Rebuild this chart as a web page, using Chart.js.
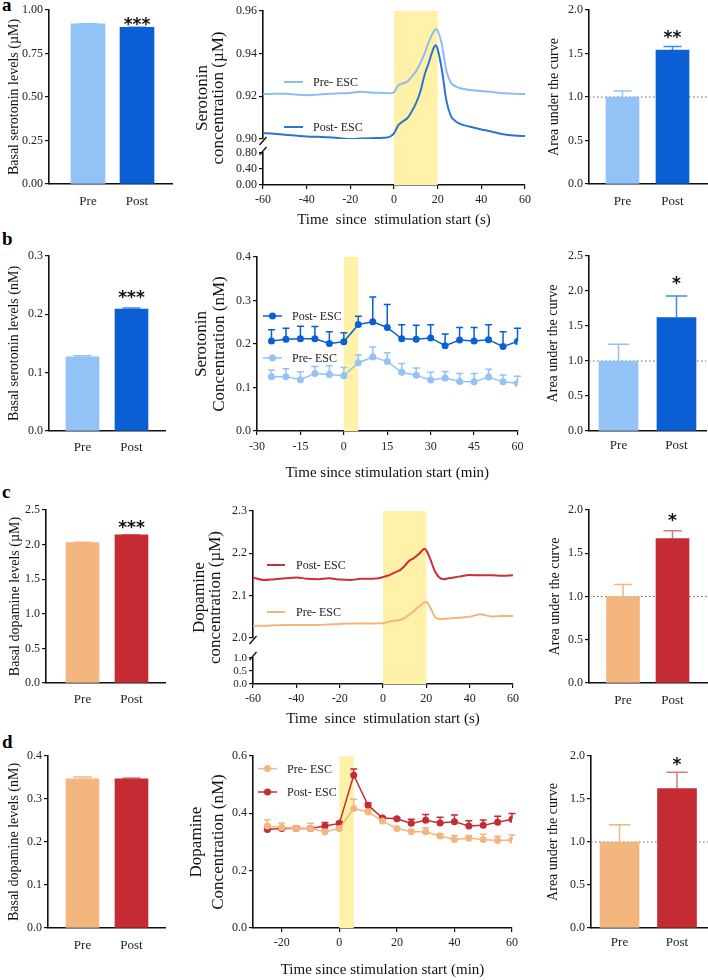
<!DOCTYPE html>
<html>
<head>
<meta charset="utf-8">
<title>ESC serotonin / dopamine</title>
<script src="https://cdn.jsdelivr.net/npm/chart.js@4.4.1/dist/chart.umd.min.js"></script>
<style>
  html, body { margin: 0; padding: 0; background: #fff; }
  body { position: relative; width: 708px; height: 980px; overflow: hidden; }
  canvas { position: absolute; }
  .tag { position: absolute; left: 2px; font: bold 19px/19px "Liberation Serif", serif; color: #000; }
</style>
</head>
<body>
<div class="tag" style="top:-5px">a</div>
<div class="tag" style="top:229px">b</div>
<div class="tag" style="top:482px">c</div>
<div class="tag" style="top:732px">d</div>
<script>
// ---------- Data ----------
const groups = ["Pre", "Post"];

// a : serotonin, FSCV trace (s)
const aBasal = [0.92, 0.90];
const aBasalErr = [0.001, 0.001];
const aAuc = [1.0, 1.54];
const aAucErr = [0.07, 0.04];
const aTime = [-60, -55, -50, -45, -40, -35, -30, -25, -20, -15, -10, -5,
  -2, 0, 2, 4, 6, 8, 10, 12, 14, 16, 18, 19, 20,
  22, 24, 26, 28, 30, 35, 40, 45, 50, 55, 60];
const aPre = [0.9211, 0.9212, 0.9212, 0.9209, 0.9205, 0.9208, 0.9212, 0.9214, 0.9216, 0.9222, 0.9217, 0.9216,
  0.9214, 0.9219, 0.9252, 0.9260, 0.9268, 0.9290, 0.9316, 0.9355, 0.9400, 0.9456, 0.9500, 0.9515, 0.9507,
  0.9440, 0.9320, 0.9265, 0.9248, 0.9239, 0.9230, 0.9225, 0.9220, 0.9215, 0.9212, 0.9211];
const aPost = [0.9027, 0.9025, 0.9020, 0.9016, 0.9012, 0.9010, 0.9008, 0.9004, 0.9000, 0.9002, 0.9004, 0.9006,
  0.9010, 0.9026, 0.9065, 0.9082, 0.9096, 0.9127, 0.9166, 0.9220, 0.9300, 0.9360, 0.9422, 0.9440, 0.9420,
  0.9320, 0.9180, 0.9110, 0.9085, 0.9072, 0.9057, 0.9045, 0.9034, 0.9022, 0.9016, 0.9014];
const aStim = [0, 20];

// b : serotonin, microdialysis (min)
const bBasal = [0.127, 0.209];
const bBasalErr = [0.002, 0.002];
const bAuc = [1.0, 1.62];
const bAucErr = [0.24, 0.31];
const bTime = [-25, -20, -15, -10, -5, 0, 5, 10, 15, 20, 25, 30, 35, 40, 45, 50, 55, 60];
const bPost = [0.207, 0.211, 0.212, 0.212, 0.201, 0.205, 0.245, 0.251, 0.238, 0.212, 0.211, 0.214, 0.196, 0.209, 0.207, 0.210, 0.194, 0.206];
const bPostErr = [0.026, 0.025, 0.029, 0.028, 0.027, 0.021, 0.019, 0.057, 0.053, 0.032, 0.032, 0.030, 0.027, 0.029, 0.031, 0.034, 0.034, 0.030];
const bPre = [0.125, 0.125, 0.118, 0.132, 0.130, 0.127, 0.157, 0.170, 0.160, 0.135, 0.128, 0.117, 0.122, 0.114, 0.113, 0.124, 0.113, 0.110];
const bPreErr = [0.015, 0.018, 0.018, 0.016, 0.020, 0.019, 0.018, 0.023, 0.020, 0.020, 0.017, 0.018, 0.015, 0.018, 0.019, 0.018, 0.016, 0.016];
const bStim = [0, 5];

// c : dopamine, FSCV trace (s)
const cBasal = [2.03, 2.14];
const cBasalErr = [0.004, 0.004];
const cAuc = [1.0, 1.67];
const cAucErr = [0.14, 0.09];
const cTime = aTime;
const cPost = [2.143, 2.137, 2.139, 2.141, 2.143, 2.140, 2.139, 2.141, 2.138, 2.137, 2.140, 2.140,
  2.141, 2.144, 2.147, 2.151, 2.156, 2.161, 2.170, 2.182, 2.188, 2.196, 2.206, 2.211, 2.207,
  2.184, 2.157, 2.143, 2.139, 2.141, 2.145, 2.149, 2.148, 2.148, 2.147, 2.148];
const cPre = [2.029, 2.029, 2.030, 2.031, 2.031, 2.031, 2.031, 2.032, 2.033, 2.034, 2.034, 2.034,
  2.035, 2.035, 2.037, 2.040, 2.041, 2.043, 2.047, 2.055, 2.062, 2.072, 2.080, 2.084, 2.085,
  2.070, 2.050, 2.045, 2.045, 2.046, 2.048, 2.050, 2.056, 2.051, 2.052, 2.052];
const cStim = [0, 20];

// d : dopamine, microdialysis (min)
const dBasal = [0.347, 0.347];
const dBasalErr = [0.004, 0.002];
const dAuc = [1.0, 1.62];
const dAucErr = [0.20, 0.19];
const dTime = [-25, -20, -15, -10, -5, 0, 5, 10, 15, 20, 25, 30, 35, 40, 45, 50, 55, 60];
const dPre = [0.356, 0.351, 0.347, 0.347, 0.336, 0.347, 0.417, 0.405, 0.373, 0.347, 0.336, 0.336, 0.321, 0.309, 0.313, 0.309, 0.305, 0.307];
const dPreErr = [0.022, 0.015, 0.008, 0.018, 0.008, 0.008, 0.032, 0.008, 0.008, 0.006, 0.006, 0.014, 0.008, 0.014, 0.010, 0.018, 0.015, 0.017];
const dPost = [0.344, 0.347, 0.347, 0.347, 0.356, 0.365, 0.533, 0.428, 0.384, 0.381, 0.365, 0.376, 0.366, 0.371, 0.356, 0.358, 0.369, 0.379];
const dPostErr = [0.005, 0.005, 0.005, 0.005, 0.012, 0.006, 0.022, 0.008, 0.004, 0.004, 0.014, 0.020, 0.020, 0.023, 0.018, 0.019, 0.021, 0.020];
const dStim = [0, 5];

// tick labels
const aBasalTicks = [0, 0.25, 0.5, 0.75, 1.0];
const aTopTicks = [0.90, 0.92, 0.94, 0.96];
const aLowTicks = [0, 0.4, 0.8];
const secTicks = [-60, -40, -20, 0, 20, 40, 60];
const auc2Ticks = [0, 0.5, 1.0, 1.5, 2.0];
const auc25Ticks = [0, 0.5, 1.0, 1.5, 2.0, 2.5];
const bBasalTicks = [0, 0.1, 0.2, 0.3];
const bTicks = [0, 0.1, 0.2, 0.3, 0.4];
const bTimeTicks = [-30, -15, 0, 15, 30, 45, 60];
const cTopTicks = [2.0, 2.1, 2.2, 2.3];
const cLowTicks = [0, 0.5, 1.0];
const dBasalTicks = [0, 0.1, 0.2, 0.3, 0.4];
const dTicks = [0, 0.2, 0.4, 0.6];
const dTimeTicks = [-20, 0, 20, 40, 60];

// ---------- Style ----------
const LIGHT_BLUE = "#93c2f6", DARK_BLUE = "#0b5fd5";
const LIGHT_ORANGE = "#f2b67e", DARK_RED = "#c42b32";
const ERR_BLUE = "#3f8ce4", ERR_RED = "#da7a7e";
const TRACE_PRE_B = "#8dbcf2", TRACE_POST_B = "#2d73d2";
const TRACE_PRE_O = "#f4b47c", TRACE_POST_O = "#c8303a";
const SHADE = "#fff2a8";
const AXIS = "#111";

Chart.defaults.font.family = '"Liberation Serif", "Times New Roman", serif';
Chart.defaults.color = "#222";
Chart.defaults.animation = false;
Chart.defaults.events = [];
Chart.defaults.plugins.legend.display = false;
Chart.defaults.plugins.tooltip.enabled = false;

// ---------- Helpers ----------
function makeCanvas(box) {
  const c = document.createElement("canvas");
  const w = box.r - box.l, h = box.b - box.t;
  c.width = w; c.height = h;
  Object.assign(c.style, { left: box.l + "px", top: box.t + "px", width: w + "px", height: h + "px" });
  document.body.appendChild(c);
  return c;
}

function axTitle(text, size, lh) {
  return { display: true, text, color: "#111", font: { size, lineHeight: lh }, padding: 0 };
}

function yAxis(width, ticks, dec, fontSize) {
  return {
    position: "left",
    grid: { drawOnChartArea: false, drawTicks: true, tickLength: 4, color: AXIS, lineWidth: 1.2 },
    border: { color: AXIS, width: 1.6 },
    ticks: {
      font: { size: fontSize || 12 }, padding: 2, color: "#222", autoSkip: false,
      callback: (v) => v.toFixed(dec),
    },
    afterBuildTicks: (s) => { s.ticks = ticks.map((v) => ({ value: v })); },
    afterFit: (s) => { s.width = width; },
  };
}

function xTimeAxis(p, height) {
  return {
    type: "linear", min: p.xMin, max: p.xMax, offset: false,
    grid: { drawOnChartArea: false, drawTicks: true, tickLength: 4, color: AXIS, lineWidth: 1.2 },
    border: { color: AXIS, width: 1.6 },
    ticks: { font: { size: 12 }, padding: p.tickPad, color: "#222", autoSkip: false, maxRotation: 0 },
    afterBuildTicks: (s) => { s.ticks = p.xTicks.map((v) => ({ value: v })); },
    afterFit: (s) => { s.height = height; },
    title: { display: true, text: p.xTitle, color: "#111", font: { size: 15, lineHeight: 1.2 }, padding: 0 },
  };
}

// extra drawing: stimulation window, reference line, error bars, stars, legend, axis break
function extras(ex) {
  return {
    id: "extras",
    beforeDatasetsDraw(chart) {
      const { ctx, chartArea: a, scales } = chart;
      const xs = scales.x, ys = scales[ex.yId || "y"];
      ctx.save();
      if (ex.stim) {
        const x0 = xs.getPixelForValue(ex.stim[0]), x1 = xs.getPixelForValue(ex.stim[1]);
        ctx.fillStyle = SHADE;
        ctx.fillRect(x0, a.top, x1 - x0, a.bottom - a.top);
      }
      if (ex.ref != null) {
        const y = ys.getPixelForValue(ex.ref);
        ctx.strokeStyle = "#666"; ctx.lineWidth = 1; ctx.setLineDash([1.5, 2.5]);
        ctx.beginPath(); ctx.moveTo(a.left, y); ctx.lineTo(a.right, y); ctx.stroke();
        ctx.setLineDash([]);
      }
      (ex.errors || []).forEach((e) => {
        ctx.lineWidth = 1.5;
        e.x.forEach((xv, i) => {
          const px = xs.getPixelForValue(xv);
          const p0 = ys.getPixelForValue(e.y[i]);
          const p1 = ys.getPixelForValue(e.y[i] + e.err[i]);
          ctx.strokeStyle = Array.isArray(e.color) ? e.color[i] : e.color;
          ctx.beginPath();
          ctx.moveTo(px, p0); ctx.lineTo(px, p1);
          ctx.moveTo(px - e.cap / 2, p1); ctx.lineTo(px + e.cap / 2, p1);
          ctx.stroke();
        });
      });
      ctx.restore();
    },
    afterDraw(chart) {
      const { ctx, chartArea: a, scales } = chart;
      const xs = scales.x, ys = scales[ex.yId || "y"];
      ctx.save();
      if (ex.star) {
        const s = ex.star;
        ctx.font = 'bold 17px "DejaVu Sans"';
        ctx.fillStyle = "#111"; ctx.textAlign = "center"; ctx.textBaseline = "alphabetic";
        ctx.fillText(s.text, xs.getPixelForValue(1), ys.getPixelForValue(s.value) - s.gap + 10);
      }
      if (ex.legend) {
        const L = ex.legend;
        ctx.font = '12px "Liberation Serif"';
        ctx.textBaseline = "middle"; ctx.textAlign = "left";
        L.items.forEach((it) => {
          const y = a.top + it.dy;
          ctx.strokeStyle = it.color; ctx.lineWidth = L.width || 2;
          ctx.beginPath(); ctx.moveTo(a.left + L.x0, y); ctx.lineTo(a.left + L.x1, y); ctx.stroke();
          if (L.point) {
            ctx.fillStyle = it.color;
            ctx.beginPath(); ctx.arc(a.left + (L.x0 + L.x1) / 2, y, 3.5, 0, Math.PI * 2); ctx.fill();
          }
          ctx.fillStyle = "#222";
          ctx.fillText(it.label, a.left + L.tx, y + 1);
        });
      }
      if (ex.breakAxis) {
        const x = a.left;
        const y1 = scales.yTop.bottom, y2 = scales.yLow.top;
        ctx.strokeStyle = AXIS; ctx.lineWidth = 1.3;
        [y1 + 2, y2 - 2].forEach((y) => {
          ctx.beginPath(); ctx.moveTo(x - 3.5, y + 4); ctx.lineTo(x + 3.5, y - 4); ctx.stroke();
        });
      }
      ctx.restore();
    },
  };
}

// ---------- Panels ----------
function barPanel(p) {
  const c = makeCanvas(p.box);
  const yW = p.area.l - p.box.l, xH = p.box.b - p.area.b;
  const errTop = p.values[1] + p.errs[1];
  new Chart(c, {
    type: "bar",
    data: {
      datasets: [{
        data: p.values.map((v, i) => ({ x: i, y: v })),
        backgroundColor: p.colors, borderWidth: 0, barThickness: p.thick,
      }],
    },
    options: {
      responsive: false,
      layout: { padding: { top: p.area.t - p.box.t, right: p.box.r - p.area.r, left: 0, bottom: 0 } },
      scales: {
        x: {
          type: "linear", min: p.xMin, max: p.xMax, z: 1, offset: false,
          grid: { display: false, drawTicks: false, offset: false },
          border: { color: AXIS, width: 1.6 },
          ticks: { font: { size: 13 }, padding: p.labelPad, color: "#222", autoSkip: false, callback: (v) => groups[v] },
          afterBuildTicks: (s) => { s.ticks = groups.map((g, i) => ({ value: i })); },
          afterFit: (s) => { s.height = xH; },
        },
        y: Object.assign(yAxis(yW, p.yTicks, p.dec), {
          min: p.yTicks[0], max: p.yTicks[p.yTicks.length - 1],
          title: axTitle(p.title, 14, 1.2),
        }),
      },
    },
    plugins: [extras({
      ref: p.ref,
      errors: [{ x: [0, 1], y: p.values, err: p.errs, color: p.errColors, cap: p.thick * 0.55 }],
      star: p.star ? { text: p.star, value: errTop, gap: p.starGap } : null,
    })],
  });
}

function tracePanel(p) {
  const c = makeCanvas(p.box);
  const yW = p.area.l - p.box.l, xH = p.box.b - p.area.b;
  const scales = { x: xTimeAxis(p, xH) };
  let yId = "y";
  if (p.broken) {
    const B = p.broken, stackW = yW - B.titleW;
    yId = "yTop";
    scales.yTitle = {
      position: "left", weight: 4,
      grid: { display: false, drawTicks: false }, border: { display: false }, ticks: { display: false },
      title: axTitle(p.yTitle, 17, p.yLH),
      afterFit: (s) => { s.width = B.titleW; },
    };
    scales.yTop = Object.assign(yAxis(stackW, B.top, B.topDec), {
      stack: "v", stackWeight: B.wTop, weight: 3, min: B.top[0], max: B.top[B.top.length - 1],
    });
    scales.yGap = {
      position: "left", stack: "v", stackWeight: B.wGap, weight: 2,
      grid: { display: false, drawTicks: false }, border: { display: false }, ticks: { display: false },
      afterFit: (s) => { s.width = stackW; },
    };
    scales.yLow = Object.assign(yAxis(stackW, B.low, B.lowDec, B.lowFont), {
      stack: "v", stackWeight: B.wLow, weight: 1, min: B.low[0], max: B.low[B.low.length - 1],
    });
  } else {
    scales.y = Object.assign(yAxis(yW, p.yTicks, p.yDec), {
      min: p.yTicks[0], max: p.yTicks[p.yTicks.length - 1],
      title: axTitle(p.yTitle, 17, p.yLH),
    });
  }
  const datasets = p.series.map((s) => ({
    data: s.x.map((t, i) => ({ x: t, y: s.y[i] })),
    yAxisID: yId,
    borderColor: s.color, backgroundColor: s.color,
    borderWidth: p.markers ? 1.5 : 2,
    pointRadius: p.markers ? 3.5 : 0, pointBorderWidth: 0,
    tension: 0, cubicInterpolationMode: p.markers ? "default" : "monotone",
  }));
  const errors = p.series.filter((s) => s.err).map((s) => ({ x: s.x, y: s.y, err: s.err, color: s.color, cap: 7 }));
  new Chart(c, {
    type: "line",
    data: { datasets },
    options: {
      responsive: false,
      layout: { padding: { top: p.area.t - p.box.t, right: p.box.r - p.area.r, left: 0, bottom: 0 } },
      scales,
    },
    plugins: [extras({ yId, stim: p.stim, errors, legend: p.legend, breakAxis: !!p.broken })],
  });
}

// ---------- Row a ----------
barPanel({
  box: { l: 6, t: 0, r: 178, b: 228 }, area: { l: 49, t: 10, r: 172, b: 184 },
  xMin: -0.796, xMax: 1.714, thick: 34, labelPad: 10,
  values: aBasal, errs: aBasalErr, colors: [LIGHT_BLUE, DARK_BLUE], errColors: [LIGHT_BLUE, ERR_BLUE],
  yTicks: aBasalTicks, dec: 2, title: "Basal serotonin levels (µM)", star: "***", starGap: 7,
});
tracePanel({
  box: { l: 194, t: 0, r: 537, b: 229 }, area: { l: 263, t: 11, r: 525, b: 185 },
  xMin: -60, xMax: 60, xTicks: secTicks, tickPad: 4, xTitle: "Time  since  stimulation start (s)",
  yTitle: ["Serotonin", "concentration (µM)"], yLH: 0.96,
  broken: { titleW: 31, top: aTopTicks, topDec: 2, low: aLowTicks, lowDec: 2, lowFont: 12, wTop: 128, wGap: 14, wLow: 32 },
  series: [{ x: aTime, y: aPre, color: TRACE_PRE_B }, { x: aTime, y: aPost, color: TRACE_POST_B }],
  stim: aStim,
  legend: { x0: 21, x1: 40, tx: 50, items: [
    { label: "Pre- ESC", color: TRACE_PRE_B, dy: 71 },
    { label: "Post- ESC", color: TRACE_POST_B, dy: 116 },
  ] },
});
barPanel({
  box: { l: 546, t: 0, r: 708, b: 228 }, area: { l: 589, t: 10, r: 708, b: 184 },
  xMin: -0.67, xMax: 1.71, thick: 33, labelPad: 10, ref: 1,
  values: aAuc, errs: aAucErr, colors: [LIGHT_BLUE, DARK_BLUE], errColors: [LIGHT_BLUE, ERR_BLUE],
  yTicks: auc2Ticks, dec: 1, title: "Area under the curve", star: "**", starGap: 14,
});

// ---------- Row b ----------
barPanel({
  box: { l: 6, t: 242, r: 172, b: 470 }, area: { l: 49, t: 256, r: 165, b: 431 },
  xMin: -0.684, xMax: 1.684, thick: 33, labelPad: 9,
  values: bBasal, errs: bBasalErr, colors: [LIGHT_BLUE, DARK_BLUE], errColors: [LIGHT_BLUE, ERR_BLUE],
  yTicks: bBasalTicks, dec: 1, title: "Basal serotonin levels (nM)", star: "***", starGap: 15,
});
tracePanel({
  box: { l: 192, t: 242, r: 528, b: 482 }, area: { l: 257, t: 257, r: 518, b: 431 },
  xMin: -30, xMax: 60, xTicks: bTimeTicks, tickPad: 4.5, xTitle: "Time since stimulation start (min)",
  yTitle: ["Serotonin", "Concentration (nM)"], yLH: 1.076, yTicks: bTicks, yDec: 1, markers: true,
  series: [
    { x: bTime, y: bPost, err: bPostErr, color: DARK_BLUE },
    { x: bTime, y: bPre, err: bPreErr, color: LIGHT_BLUE },
  ],
  stim: bStim,
  legend: { x0: 6, x1: 25, tx: 35, width: 1.5, point: true, items: [
    { label: "Post- ESC", color: DARK_BLUE, dy: 59 },
    { label: "Pre- ESC", color: LIGHT_BLUE, dy: 101 },
  ] },
});
barPanel({
  box: { l: 545, t: 242, r: 708, b: 470 }, area: { l: 589, t: 256, r: 706, b: 431 },
  xMin: -0.509, xMax: 1.509, thick: 39, labelPad: 7, ref: 1,
  values: bAuc, errs: bAucErr, colors: [LIGHT_BLUE, DARK_BLUE], errColors: [LIGHT_BLUE, ERR_BLUE],
  yTicks: auc25Ticks, dec: 1, title: "Area under the curve", star: "*", starGap: 17,
});

// ---------- Row c ----------
barPanel({
  box: { l: 7, t: 495, r: 168, b: 722 }, area: { l: 46, t: 510, r: 165, b: 683 },
  xMin: -0.745, xMax: 1.684, thick: 33, labelPad: 9,
  values: cBasal, errs: cBasalErr, colors: [LIGHT_ORANGE, DARK_RED], errColors: [LIGHT_ORANGE, ERR_RED],
  yTicks: auc25Ticks, dec: 1, title: "Basal dopamine levels (µM)", star: "***", starGap: 12,
});
tracePanel({
  box: { l: 191, t: 495, r: 525, b: 728 }, area: { l: 253, t: 511, r: 513, b: 684 },
  xMin: -60, xMax: 60, xTicks: secTicks, tickPad: 4, xTitle: "Time  since  stimulation start (s)",
  yTitle: ["Dopamine", "concentration (µM)"], yLH: 0.96,
  broken: { titleW: 32, top: cTopTicks, topDec: 1, low: cLowTicks, lowDec: 1, lowFont: 11, wTop: 127, wGap: 20, wLow: 26 },
  series: [{ x: cTime, y: cPre, color: TRACE_PRE_O }, { x: cTime, y: cPost, color: TRACE_POST_O }],
  stim: cStim,
  legend: { x0: 14, x1: 32, tx: 43, items: [
    { label: "Post- ESC", color: TRACE_POST_O, dy: 54 },
    { label: "Pre- ESC", color: TRACE_PRE_O, dy: 101 },
  ] },
});
barPanel({
  box: { l: 547, t: 495, r: 708, b: 722 }, area: { l: 589, t: 510, r: 708, b: 683 },
  xMin: -0.687, xMax: 1.717, thick: 33, labelPad: 10, ref: 1,
  values: cAuc, errs: cAucErr, colors: [LIGHT_ORANGE, DARK_RED], errColors: [LIGHT_ORANGE, ERR_RED],
  yTicks: auc2Ticks, dec: 1, title: "Area under the curve", star: "*", starGap: 15,
});

// ---------- Row d ----------
barPanel({
  box: { l: 6, t: 745, r: 168, b: 975 }, area: { l: 48, t: 756, r: 165, b: 928 },
  xMin: -0.704, xMax: 1.684, thick: 33, labelPad: 10,
  values: dBasal, errs: dBasalErr, colors: [LIGHT_ORANGE, DARK_RED], errColors: [LIGHT_ORANGE, ERR_RED],
  yTicks: dBasalTicks, dec: 1, title: "Basal dopamine levels (nM)",
});
tracePanel({
  box: { l: 186, t: 745, r: 524, b: 979 }, area: { l: 253, t: 756, r: 512, b: 928 },
  xMin: -30, xMax: 60, xTicks: dTimeTicks, tickPad: 4, xTitle: "Time since stimulation start (min)",
  yTitle: ["Dopamine", "Concentration (nM)"], yLH: 1.27, yTicks: dTicks, yDec: 1, markers: true,
  series: [
    { x: dTime, y: dPre, err: dPreErr, color: LIGHT_ORANGE },
    { x: dTime, y: dPost, err: dPostErr, color: DARK_RED },
  ],
  stim: dStim,
  legend: { x0: 5, x1: 24, tx: 34, width: 1.5, point: true, items: [
    { label: "Pre- ESC", color: LIGHT_ORANGE, dy: 12.6 },
    { label: "Post- ESC", color: DARK_RED, dy: 36 },
  ] },
});
barPanel({
  box: { l: 545, t: 745, r: 708, b: 975 }, area: { l: 591, t: 756, r: 708, b: 928 },
  xMin: -0.496, xMax: 1.539, thick: 39, labelPad: 7, ref: 1,
  values: dAuc, errs: dAucErr, colors: [LIGHT_ORANGE, DARK_RED], errColors: [LIGHT_ORANGE, ERR_RED],
  yTicks: auc2Ticks, dec: 1, title: "Area under the curve", star: "*", starGap: 12,
});
</script>
</body>
</html>
